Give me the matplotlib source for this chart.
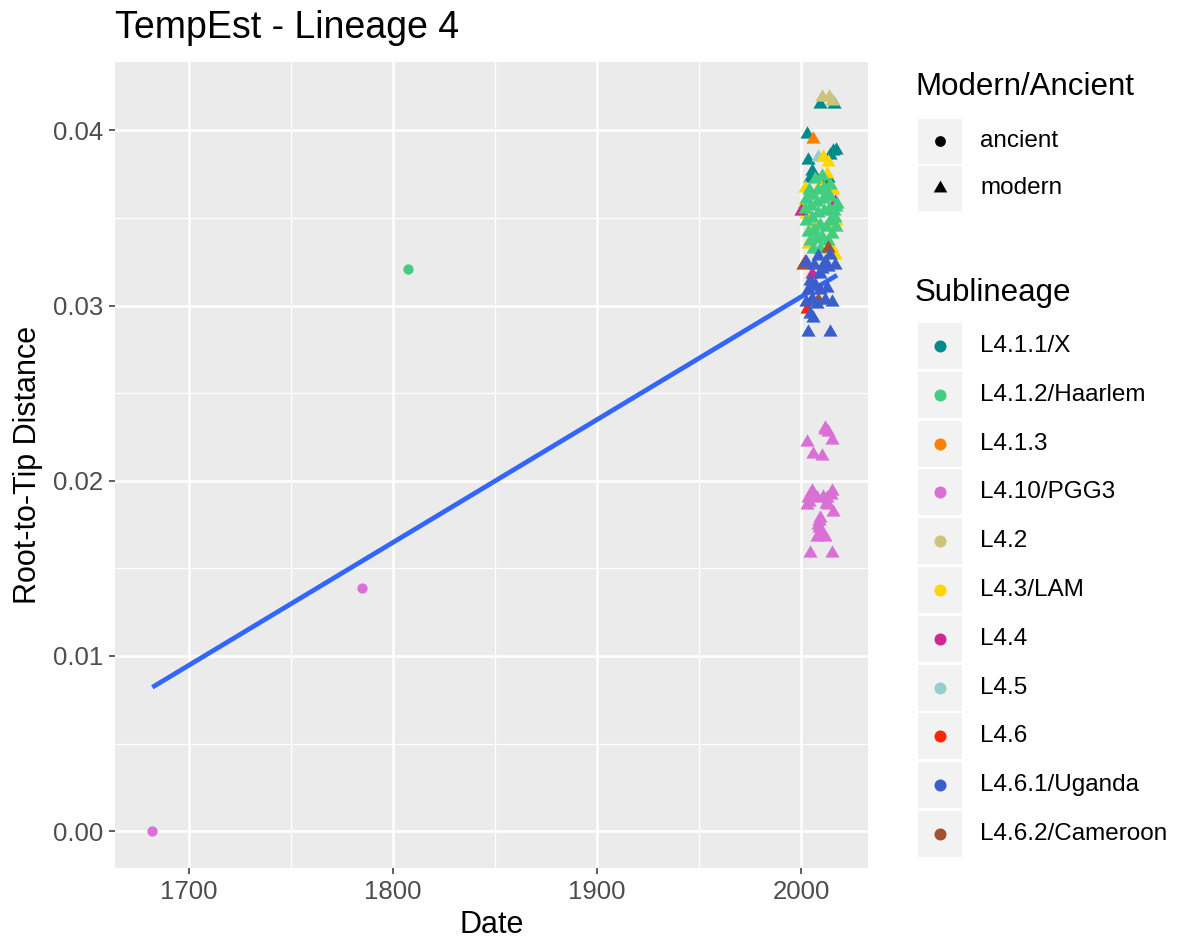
import numpy as np
import matplotlib.pyplot as plt
from matplotlib.patches import Rectangle

plt.rcParams['font.family'] = ['Liberation Sans', 'DejaVu Sans']

# sublineage names and colours (legend order)
sublineages = ['L4.1.1/X', 'L4.1.2/Haarlem', 'L4.1.3', 'L4.10/PGG3', 'L4.2', 'L4.3/LAM',
               'L4.4', 'L4.5', 'L4.6', 'L4.6.1/Uganda', 'L4.6.2/Cameroon']
palette = ['#008B8B', '#43CD80', '#FF7F00', '#DA70D6', '#CBC47A', '#FFD700',
           '#CD2990', '#96CDCD', '#FF2500', '#3A5FCD', '#A0522D']

# ancient samples (circles)
anc_sub = ['L4.10/PGG3', 'L4.10/PGG3', 'L4.1.2/Haarlem']
anc_date = [1682.0, 1784.8, 1807.4]
anc_dist = [0.0, 0.0139, 0.0321]

# modern samples (triangles), per sublineage
x_411 = [2009.3, 2016.2, 2002.9, 2015.7, 2017.2, 2003.4, 2014.2, 2005.4, 2004.4, 2011.8, 2013.2]
y_411 = [0.0415, 0.0415, 0.0398, 0.0388, 0.0389, 0.0383, 0.0386, 0.0377, 0.0373, 0.0371, 0.0373]

x_412 = [2002.5, 2005.4, 2008.3, 2011.3, 2014.2, 2017.2, 2002.0, 2004.9, 2007.8, 2010.8, 2013.7, 2016.7,
         2002.5, 2005.4, 2008.3, 2011.3, 2014.2, 2017.2, 2003.4, 2006.4, 2009.3, 2012.3, 2015.2, 2004.4,
         2007.4, 2010.3, 2013.2, 2016.2, 2005.9, 2009.3, 2006.9, 2010.3, 2014.2, 2017.6, 2012.3, 2003.9]
y_412 = [0.0361, 0.0363, 0.0366, 0.0367, 0.0362, 0.0356, 0.0355, 0.0357, 0.0359, 0.0361, 0.0355, 0.0350,
         0.0348, 0.0350, 0.0353, 0.0354, 0.0348, 0.0345, 0.0342, 0.0343, 0.0346, 0.0345, 0.0341, 0.0337,
         0.0338, 0.0339, 0.0337, 0.0354, 0.0332, 0.0332, 0.0372, 0.0374, 0.0369, 0.0358, 0.0363, 0.0366]

x_413 = [2005.9]
y_413 = [0.0395]

x_410 = [2011.8, 2013.2, 2002.9, 2015.2, 2005.9, 2010.3, 2005.4, 2003.4, 2010.8, 2015.2, 2002.9,
         2013.2, 2015.7, 2009.3, 2008.3, 2009.3, 2011.8, 2007.8, 2004.4, 2015.2, 2008.0, 2012.0,
         2011.5, 2005.0, 2003.8, 2012.8, 2009.0, 2010.0, 2014.5, 2008.8]
y_410 = [0.0230, 0.0228, 0.0222, 0.0223, 0.0215, 0.0214, 0.0194, 0.0190, 0.0191, 0.0194, 0.0186,
         0.0186, 0.0182, 0.0179, 0.0175, 0.0171, 0.0168, 0.0168, 0.0159, 0.0159, 0.0190, 0.0187,
         0.0229, 0.0193, 0.0188, 0.0190, 0.0177, 0.0170, 0.0192, 0.0173]

x_42 = [2010.3, 2013.7, 2015.2]
y_42 = [0.0419, 0.0419, 0.0417]

x_43 = [2010.8, 2013.2, 2012.7, 2002.0, 2015.7, 2004.4, 2002.5, 2006.4, 2014.2, 2017.2, 2003.4,
        2015.2, 2016.7, 2001.5, 2009.3]
y_43 = [0.0385, 0.0382, 0.0375, 0.0367, 0.0366, 0.0363, 0.0352, 0.0346, 0.0345, 0.0348, 0.0335,
        0.0332, 0.0329, 0.0358, 0.0369]

x_44 = [2016.7, 2000.0, 2002.0, 2005.4]
y_44 = [0.0359, 0.0354, 0.0325, 0.0318]

x_45 = [2008.3]
y_45 = [0.0385]

x_46 = [2002.9]
y_46 = [0.0298]

x_461 = [2002.5, 2008.3, 2011.8, 2014.2, 2016.7, 2006.4, 2010.3, 2013.2, 2004.4, 2006.9, 2009.3, 2012.7,
         2005.4, 2007.8, 2011.8, 2015.2, 2002.5, 2005.9, 2004.4, 2003.4, 2014.2, 2009.3, 2003.4]
y_461 = [0.0325, 0.0328, 0.0325, 0.0329, 0.0323, 0.0323, 0.0321, 0.0322, 0.0314, 0.0312, 0.0309, 0.0310,
         0.0304, 0.0301, 0.0303, 0.0302, 0.0302, 0.0293, 0.0295, 0.0285, 0.0285, 0.0318, 0.0309]

x_462 = [2013.2, 2001.0, 2008.3]
y_462 = [0.0333, 0.0323, 0.0303]

modern = {
    'L4.1.1/X': (x_411, y_411),
    'L4.1.2/Haarlem': (x_412, y_412),
    'L4.1.3': (x_413, y_413),
    'L4.10/PGG3': (x_410, y_410),
    'L4.2': (x_42, y_42),
    'L4.3/LAM': (x_43, y_43),
    'L4.4': (x_44, y_44),
    'L4.5': (x_45, y_45),
    'L4.6': (x_46, y_46),
    'L4.6.1/Uganda': (x_461, y_461),
    'L4.6.2/Cameroon': (x_462, y_462),
}
col = dict(zip(sublineages, palette))
draw_order = ['L4.1.1/X', 'L4.1.3', 'L4.5', 'L4.3/LAM', 'L4.4', 'L4.1.2/Haarlem', 'L4.2',
              'L4.6.2/Cameroon', 'L4.6', 'L4.6.1/Uganda', 'L4.10/PGG3']

# equilateral triangle like ggplot shape 17
tri = [(0, 1), (-0.866, -0.5), (0.866, -0.5)]

fig = plt.figure(figsize=(11.79, 9.43), dpi=100)
W, H = 1179, 943
ax = fig.add_axes([115 / W, 1 - 868 / H, (868 - 115) / W, (868 - 62) / H])
ax.set_facecolor('#EBEBEB')
for s in ax.spines.values():
    s.set_visible(False)

# linear regression over all samples
all_x = np.concatenate([anc_date] + [modern[k][0] for k in sublineages])
all_y = np.concatenate([anc_dist] + [modern[k][1] for k in sublineages])
b, a = np.polyfit(all_x, all_y, 1)
xs = np.array([all_x.min(), all_x.max()])
ax.plot(xs, a + b * xs, color='#3366FF', lw=3.4, solid_capstyle='butt', zorder=2)

for name in draw_order:
    xv, yv = modern[name]
    ax.scatter(xv, yv, marker=tri, s=140, color=col[name], linewidths=0, zorder=3)
for d, v, sname in zip(anc_date, anc_dist, anc_sub):
    ax.scatter(d, v, marker='o', s=55, color=col[sname], linewidths=0, zorder=3)

ax.set_xlim(1663.7, 2032.8)
ax.set_ylim(-0.0021, 0.0439)
ax.set_xticks([1700, 1800, 1900, 2000])
ax.set_xticks([1750, 1850, 1950], minor=True)
ax.set_yticks([0, 0.01, 0.02, 0.03, 0.04])
ax.set_yticklabels(['0.00', '0.01', '0.02', '0.03', '0.04'])
ax.set_yticks([0.005, 0.015, 0.025, 0.035], minor=True)
ax.grid(which='major', color='white', lw=1.8)
ax.grid(which='minor', color='white', lw=0.9)
ax.set_axisbelow(True)
ax.tick_params(which='major', length=4.5, width=1.1, color='#333333', labelcolor='#4D4D4D',
               labelsize=18.5, pad=4)
ax.tick_params(which='minor', length=0)

ax.set_xlabel('Date', fontsize=22)
ax.set_ylabel('Root-to-Tip Distance', fontsize=22)
ax.xaxis.set_label_coords(0.5, -(925 - 868) / 806, transform=ax.transAxes)
ax.yaxis.set_label_coords(-(115 - 28) / 753, 0.5, transform=ax.transAxes)
ax.xaxis.label.set_va('center')
ax.yaxis.label.set_va('center')

fig.text(115 / W, 1 - 28 / H, 'TempEst - Lineage 4', fontsize=27, va='center', ha='left')

# legends drawn in figure pixel space
lg = fig.add_axes([0, 0, 1, 1], facecolor='none')
lg.set_xlim(0, W)
lg.set_ylim(H, 0)
lg.axis('off')

lg.text(915, 87, 'Modern/Ancient', fontsize=22.5, va='center', ha='left')
shape_labels = ['ancient', 'modern']
shape_markers = ['o', tri]
shape_sizes = [60, 130]
for i, (lab, m, sz) in enumerate(zip(shape_labels, shape_markers, shape_sizes)):
    cy = 141 + 47 * i
    lg.add_patch(Rectangle((918, cy - 22.5), 44, 45, color='#F2F2F2', lw=0))
    lg.scatter(940, cy, marker=m, s=sz, color='black', linewidths=0)
    lg.text(980, cy, lab, fontsize=17.5, va='center', ha='left')

lg.text(915, 293, 'Sublineage', fontsize=22.5, va='center', ha='left')
for i, (name, c) in enumerate(zip(sublineages, palette)):
    cy = 346 + 48.8 * i
    lg.add_patch(Rectangle((918, cy - 23), 44, 46, color='#F2F2F2', lw=0))
    lg.scatter(940, cy, marker='o', s=75, color=c, linewidths=0)
    lg.text(980, cy, name, fontsize=17.5, va='center', ha='left')

fig.savefig('out.png', dpi=100)
